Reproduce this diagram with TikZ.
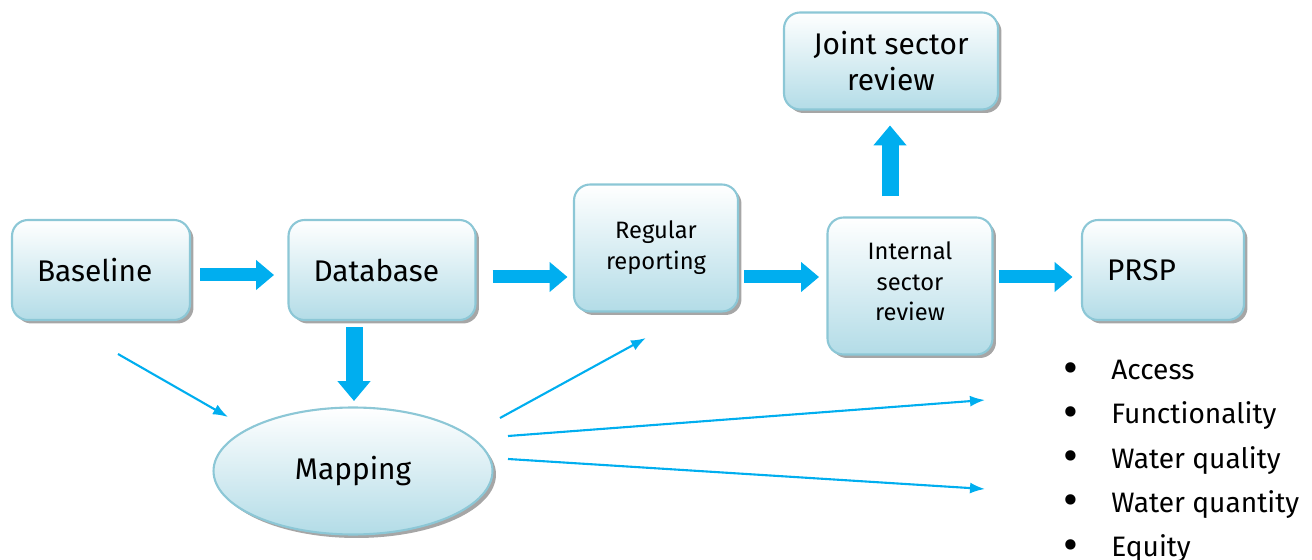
\documentclass[tikz,border=0pt]{standalone}
\usepackage{fontspec}
\setmainfont{Fira Sans}
\usetikzlibrary{shapes.geometric, arrows.meta, shadows}

\definecolor{edgeblue}{HTML}{8CC7D6}
\definecolor{fillblue}{HTML}{B3DCE7}
\definecolor{arrowcyan}{HTML}{00AEEF}

\tikzset{
  stage/.style={draw=edgeblue, line width=1.2pt, rounded corners=0.32cm,
    top color=white, bottom color=fillblue, align=center,
    drop shadow={shadow xshift=0.07cm, shadow yshift=-0.07cm, fill=gray!70, opacity=1}},
  leftstage/.style={stage, align=left, inner xsep=0.5cm, text width=#1},
  bigtxt/.style={font=\fontsize{17}{21}\selectfont},
  listtxt/.style={font=\fontsize{16}{20}\selectfont},
  smalltxt/.style={font=\fontsize{13.5}{17.5}\selectfont},
  fat/.style={arrowcyan, line width=0.26cm, -{Triangle[width=0.58cm,length=0.36cm]}},
  fatter/.style={arrowcyan, line width=0.34cm, -{Triangle[width=0.64cm,length=0.4cm]}},
  thin/.style={arrowcyan, line width=1.2pt, -{Latex[length=0.3cm,width=0.22cm]}}
}

\begin{document}
\begin{tikzpicture}[x=0.02cm,y=-0.02cm]

    \useasboundingbox (0,0) rectangle (1312,560);

    % Process boxes
    \node[leftstage=2.56cm, bigtxt, minimum height=2cm] (base) at (101,270) {Baseline};
    \node[leftstage=2.74cm, bigtxt, minimum height=2cm] (data) at (382,270) {Database};
    \node[stage, smalltxt, minimum width=3.28cm, minimum height=2.54cm] (report) at (656,248) {Regular\\reporting};
    \node[stage, smalltxt, minimum width=3.3cm, minimum height=2.74cm] (internal) at (910,286) {Internal\\sector\\review\\[-12pt]};
    \node[leftstage=2.24cm, bigtxt, minimum height=2cm] (prsp) at (1163,270) {PRSP};
    \node[stage, bigtxt, minimum width=4.28cm, minimum height=1.94cm] (joint) at (891,61) {Joint sector\\review};

    % Mapping ellipse
    \node[stage, bigtxt, ellipse, minimum width=5.58cm, minimum height=2.54cm] (map) at (353,471) {Mapping};

    % Indicator list
    \foreach \item [count=\i] in {Access, Functionality, Water quality, Water quantity, Equity} {
      \node[listtxt, anchor=base west, inner xsep=0pt] (ind\i) at (1111,380+44*\i-44) {\item};
      \node[anchor=base, font=\fontsize{26}{26}\selectfont] (dot\i) at (1071,384+44*\i-44) {\textbullet};
    }

    % Free ends of the thin arrows
    \coordinate (tail1) at (118,354);
    \coordinate (mapin) at (228,417);
    \coordinate (out1) at (500,418);
    \coordinate (head1) at (646,338);
    \coordinate (out2) at (508,436);
    \coordinate (head2) at (985,400);
    \coordinate (out3) at (508,459);
    \coordinate (head3) at (985,489);

    % Block arrows
    \draw[fat] (base.east) ++(9,5) -- ++(74,0);
    \draw[fat] (data.east) ++(16,7) -- ++(75,0);
    \draw[fat] (report.east) ++(5,29) -- ++(75,0);
    \draw[fat] (internal.east) ++(5,-9) -- ++(74,0);
    \draw[fatter] (internal.north) ++(-20,-20) -- ++(0,-71);
    \draw[fatter] (data.south) ++(-28,6) -- ++(0,74);

    % Thin arrows
    \draw[thin] (tail1) -- (mapin);
    \draw[thin] (out1) -- (head1);
    \draw[thin] (out2) -- (head2);
    \draw[thin] (out3) -- (head3);

\end{tikzpicture}
\end{document}
